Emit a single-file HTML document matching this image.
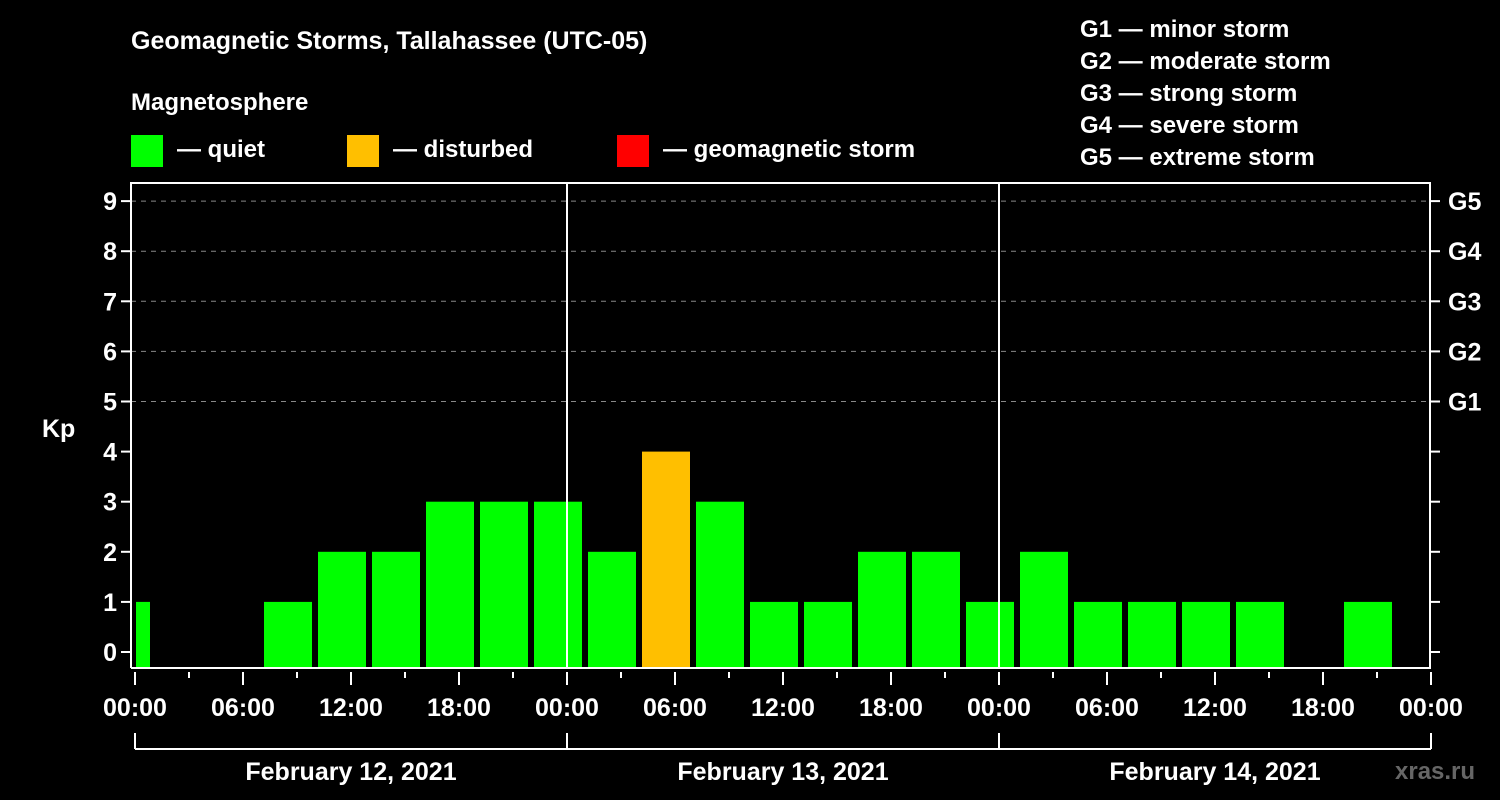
<!DOCTYPE html>
<html><head><meta charset="utf-8"><style>
html,body{margin:0;padding:0;background:#000;}
svg{display:block;font-family:"Liberation Sans",sans-serif;font-weight:bold;}
</style></head><body>
<svg width="1500" height="800" xmlns="http://www.w3.org/2000/svg">
<text x="131" y="49" fill="#fff" font-size="25">Geomagnetic Storms, Tallahassee (UTC-05)</text>
<text x="131" y="110" fill="#fff" font-size="24">Magnetosphere</text>
<g><rect x="131" y="135" width="32" height="32" fill="#00ff00"/><text x="177" y="157" fill="#fff" font-size="24">— quiet</text></g>
<g><rect x="347" y="135" width="32" height="32" fill="#ffbf00"/><text x="393" y="157" fill="#fff" font-size="24">— disturbed</text></g>
<g><rect x="617" y="135" width="32" height="32" fill="#ff0000"/><text x="663" y="157" fill="#fff" font-size="24">— geomagnetic storm</text></g>
<g fill="#fff" font-size="24">
<text x="1080" y="37">G1 — minor storm</text>
<text x="1080" y="69">G2 — moderate storm</text>
<text x="1080" y="101">G3 — strong storm</text>
<text x="1080" y="133">G4 — severe storm</text>
<text x="1080" y="165">G5 — extreme storm</text>
</g>
<text x="42" y="437" fill="#fff" font-size="25">Kp</text>
<text x="1395" y="779" fill="#666" font-size="24">xras.ru</text>
<g id="grid"></g><g id="bars"></g><g id="axes"></g>
<script>
const kpValues=[1,0,0,1,2,2,3,3,3,2,4,3,1,1,2,2,1,2,1,1,1,1,0,1];
const barStartHours=[0,1,4,7,10,13,16,19,22,25,28,31,34,37,40,43,46,49,52,55,58,61,64,67];
const barEndHours=[1,4,7,10,13,16,19,22,25,28,31,34,37,40,43,46,49,52,55,58,61,64,67,70];
const dayLabels=["February 12, 2021","February 13, 2021","February 14, 2021"];
const hourLabels=["00:00","06:00","12:00","18:00"];
const gLabels=["G1","G2","G3","G4","G5"];
const NS="http://www.w3.org/2000/svg";
const X0=135,PXH=18,Y0=652,PXK=50.1,TOP=183,BOT=668,LEFT=131,RIGHT=1430;
const xs=h=>X0+h*PXH, ys=k=>Y0-k*PXK;
function mk(tag,attrs,parent){const e=document.createElementNS(NS,tag);for(const k in attrs)e.setAttribute(k,attrs[k]);parent.appendChild(e);return e;}
const grid=document.getElementById('grid'),bars=document.getElementById('bars'),axes=document.getElementById('axes');
for(let k=5;k<=9;k++){const l=mk('line',{x1:LEFT,x2:RIGHT,y1:ys(k),y2:ys(k),stroke:'#888','stroke-dasharray':'5,5'},grid);

}
kpValues.forEach((v,i)=>{if(v<=0)return;
const a=xs(barStartHours[i])+(barStartHours[i]===0?1:3), b=xs(barEndHours[i])-3;
const r=mk('rect',{x:a,y:ys(v),width:b-a,height:BOT-ys(v),fill:v>=5?'#ff0000':v>=4?'#ffbf00':'#00ff00'},bars);

});
mk('path',{d:`M${LEFT} ${BOT}V${TOP}H${RIGHT}V${BOT}H${LEFT}`,stroke:'#fff','stroke-width':2,fill:'none'},axes);
for(let d=1;d<3;d++)mk('line',{x1:xs(d*24),x2:xs(d*24),y1:TOP,y2:BOT,stroke:'#fff','stroke-width':2},axes);
for(let k=0;k<=9;k++){mk('line',{x1:LEFT-10,x2:LEFT,y1:ys(k),y2:ys(k),stroke:'#fff','stroke-width':2},axes);
mk('line',{x1:RIGHT,x2:RIGHT+10,y1:ys(k),y2:ys(k),stroke:'#fff','stroke-width':2},axes);
const t=mk('text',{x:LEFT-14,y:ys(k)+9,fill:'#fff','font-size':25,'text-anchor':'end'},axes);t.textContent=k;

}
gLabels.forEach((g,i)=>{const t=mk('text',{x:RIGHT+18,y:ys(i+5)+9,fill:'#fff','font-size':25},axes);t.textContent=g;

});
for(let h=0;h<=72;h+=3){const major=h%6===0;
mk('line',{x1:xs(h),x2:xs(h),y1:BOT+4,y2:BOT+(major?17:10),stroke:'#fff','stroke-width':2},axes);
if(major){const t=mk('text',{x:xs(h),y:BOT+48,fill:'#fff','font-size':25,'text-anchor':'middle'},axes);t.textContent=hourLabels[(h/6)%4];

}}
mk('line',{x1:xs(0),x2:xs(72),y1:749,y2:749,stroke:'#fff','stroke-width':2},axes);
for(let d=0;d<=3;d++)mk('line',{x1:xs(d*24),x2:xs(d*24),y1:733,y2:749,stroke:'#fff','stroke-width':2},axes);
dayLabels.forEach((s,d)=>{const t=mk('text',{x:xs(d*24+12),y:780,fill:'#fff','font-size':25,'text-anchor':'middle'},axes);t.textContent=s;

});
</script>
</svg>
</body></html>
